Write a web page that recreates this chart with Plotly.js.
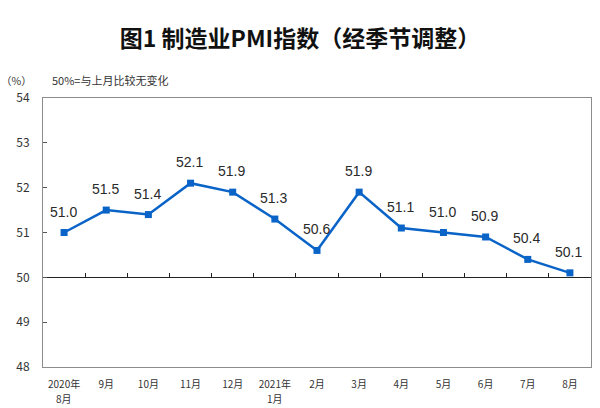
<!DOCTYPE html>
<html>
<head>
<meta charset="utf-8">
<script src="https://cdn.plot.ly/plotly-3.0.1.min.js"></script>
<style>html,body{margin:0;padding:0;background:#fff;}#chart{width:600px;height:408px;}</style>
</head>
<body>
<div id="chart"></div>
<script>
var months = ["2020-08","2020-09","2020-10","2020-11","2020-12","2021-01","2021-02","2021-03","2021-04","2021-05","2021-06","2021-07","2021-08"];
var tickLabels = ["2020年","9月","10月","11月","12月","2021年","2月","3月","4月","5月","6月","7月","8月"];
var tickLabels2 = ["8月","","","","","1月","","","","","","",""];
var pmi = [51.0, 51.5, 51.4, 52.1, 51.9, 51.3, 50.6, 51.9, 51.1, 51.0, 50.9, 50.4, 50.1];
var pmiText = pmi.map(function(v){return v.toFixed(1);});
var yTicks = [48, 49, 50, 51, 52, 53, 54];
var boundaries = [0.5,1.5,2.5,3.5,4.5,5.5,6.5,7.5,8.5,9.5,10.5,11.5];
var baseline = 50;

var trace = {
  type: 'scatter', mode: 'lines+markers',
  x: months, y: pmi,
  line: {color: '#0a64c8', width: 2.5},
  marker: {symbol: 'square', size: 7, color: '#0a64c8'},
  cliponaxis: false, hoverinfo: 'skip', xaxis: 'x', yaxis: 'y'
};
var dummy = {
  type: 'scatter', mode: 'markers', x: boundaries, y: boundaries.map(function(){return baseline;}),
  marker: {opacity: 0, size: 1}, hoverinfo: 'skip', xaxis: 'x2', yaxis: 'y'
};

var annotations = [
  {text: '（%）', xref: 'paper', yref: 'paper', x: -0.078, y: 1.035, xanchor: 'left', yanchor: 'bottom', showarrow: false, borderpad: 0,
   font: {family: 'Noto Sans CJK SC', size: 10.5, color: '#333'}},
  {text: '50%=与上月比较无变化', xref: 'paper', yref: 'paper', x: 0.014, y: 1.035, xanchor: 'left', yanchor: 'bottom', showarrow: false, borderpad: 0,
   font: {family: 'Noto Sans CJK SC', size: 11, color: '#333'}}
];
pmi.forEach(function(v, i){
  annotations.push({text: pmiText[i], x: months[i], y: v, xref: 'x', yref: 'y', showarrow: false,
    xanchor: 'center', yanchor: 'middle', yshift: 21, xshift: -1,
    font: {family: 'Liberation Sans, Arial, sans-serif', size: 14, color: '#2a2a2a'}});
});
tickLabels2.forEach(function(t, i){
  if (!t) return;
  annotations.push({text: t, x: months[i], y: 0, xref: 'x', yref: 'paper', showarrow: false,
    xanchor: 'center', yanchor: 'bottom', yshift: -40, borderpad: 0,
    font: {family: 'Noto Sans CJK SC', size: 10, color: '#333'}});
});

var layout = {
  width: 600, height: 408,
  margin: {l: 43, r: 9, t: 98, b: 41},
  paper_bgcolor: '#fff', plot_bgcolor: '#fff',
  showlegend: false,
  title: {text: '<b>图1 制造业PMI指数（经季节调整）</b>', x: 0.5, xanchor: 'center', y: 0.905, yanchor: 'middle',
    font: {family: 'Noto Sans CJK SC', size: 23, color: '#111'}},
  xaxis: {
    type: 'category', categoryorder: 'array', categoryarray: months,
    range: [-0.5, 12.5],
    tickvals: months, ticktext: tickLabels,
    ticks: '', showgrid: false, zeroline: false, ticklabelstandoff: 8,
    showline: true, linecolor: '#8c8c8c', linewidth: 1, mirror: true,
    tickfont: {family: 'Noto Sans CJK SC', size: 10, color: '#333'}
  },
  xaxis2: {
    overlaying: 'x', anchor: 'free', position: (baseline - 48) / 6, side: 'bottom',
    type: 'linear', range: [-0.5, 12.5], tickvals: boundaries,
    ticks: 'inside', ticklen: 4, tickcolor: '#222', tickwidth: 1,
    showticklabels: false, showgrid: false, zeroline: false,
    showline: true, linecolor: '#222', linewidth: 1
  },
  yaxis: {
    range: [48, 54], tickvals: yTicks, ticktext: yTicks.map(String),
    ticks: 'inside', ticklen: 4, tickcolor: '#555',
    showgrid: false, zeroline: false, ticklabelstandoff: 10,
    showline: true, linecolor: '#8c8c8c', linewidth: 1, mirror: true,
    tickfont: {family: 'Noto Sans CJK SC', size: 12, color: '#333'}
  },
  annotations: annotations
};

Plotly.newPlot('chart', [dummy, trace], layout, {displayModeBar: false, staticPlot: true});
</script>
</body>
</html>
